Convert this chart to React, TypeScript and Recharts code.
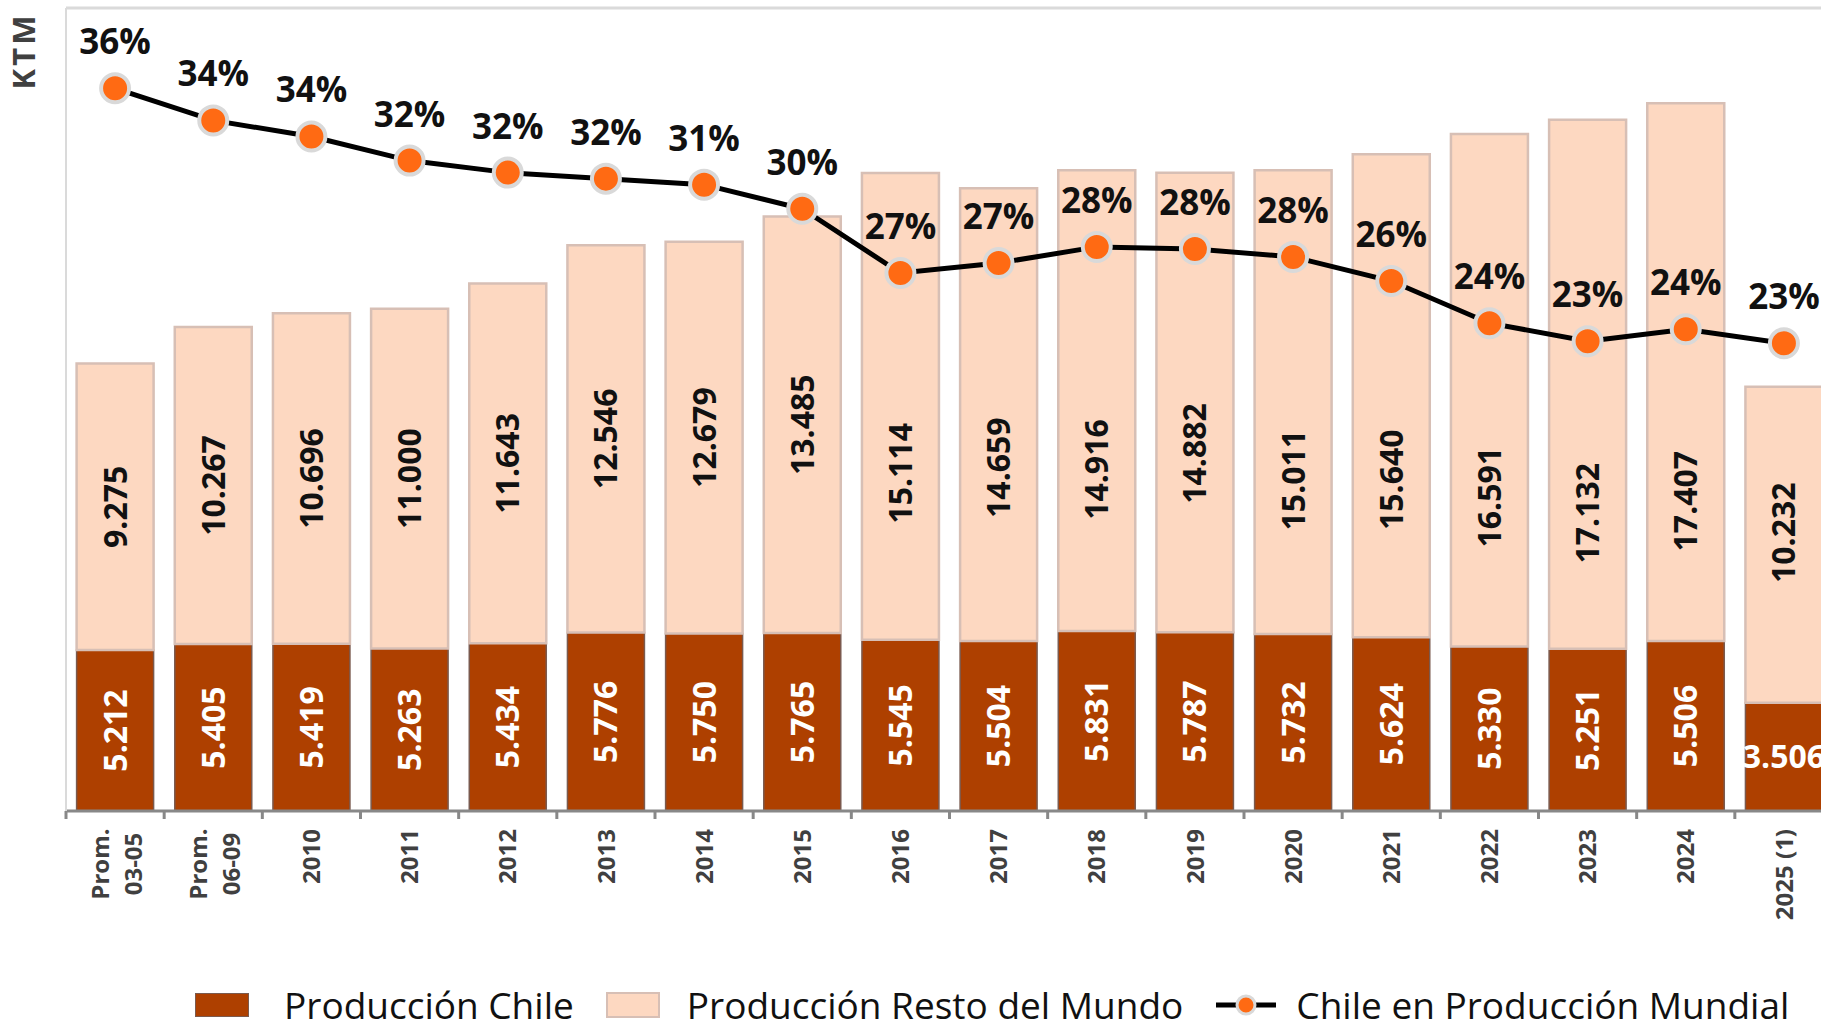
import { ComposedChart, Bar, Line, XAxis, YAxis, LabelList, ReferenceLine } from 'recharts';

// ---------------- DATA ----------------
const CATEGORIES = [
  'Prom.\n03-05',
  'Prom.\n06-09',
  '2010',
  '2011',
  '2012',
  '2013',
  '2014',
  '2015',
  '2016',
  '2017',
  '2018',
  '2019',
  '2020',
  '2021',
  '2022',
  '2023',
  '2024',
  '2025 (1)',
];
const CHILE = [5212, 5405, 5419, 5263, 5434, 5776, 5750, 5765, 5545, 5504, 5831, 5787, 5732, 5624, 5330, 5251, 5506, 3506];
const REST = [9275, 10267, 10696, 11000, 11643, 12546, 12679, 13485, 15114, 14659, 14916, 14882, 15011, 15640, 16591, 17132, 17407, 10232];
const SHARE = [0.36, 0.344, 0.336, 0.324, 0.318, 0.315, 0.312, 0.3, 0.268, 0.273, 0.281, 0.28, 0.276, 0.264, 0.243, 0.234, 0.24, 0.233];
const Y_MAX = 26000;

const data = CATEGORIES.map((name, i) => ({ name, chile: CHILE[i], rest: REST[i], share: SHARE[i] }));

// ---------------- LAYOUT ----------------
const CHART_W = 1840;
const CHART_H = 1024;
const MARGIN = { top: 8, right: 7, left: 65, bottom: 93 };
const BAND = (CHART_W - 66 - MARGIN.right) / CATEGORIES.length;
// the original nudges the "resto" labels downwards so they clear the line (px)
const REST_LABEL_NUDGE = [0, 0, 0, 0, 0, 0, 0, 0, 67, 53, 69, 51, 78, 84, 107, 129, 129, -12];

const FONT = '"Open Sans", sans-serif';
const C_CHILE = '#AE4000';
const C_REST = '#FDD8C1';
const C_DOT = '#FF6A13';

// ---------------- FORMATTERS ----------------
function fmt(v: number): string {
  const t = Math.floor(v / 1000);
  return t > 0 ? `${t}.${String(v % 1000).padStart(3, '0')}` : String(v);
}

// ---------------- LABELS ----------------
const barValue = (color: string, isChile: boolean) => (props: any) => {
  const { x, y, width, height, value, index } = props;
  const cx = Number(x) + Number(width) / 2;
  const cy = Number(y) + Number(height) / 2 + (isChile ? 0 : REST_LABEL_NUDGE[index] || 0);
  const flat = isChile && index === CATEGORIES.length - 1;
  return (
    <text
      transform={flat ? `translate(${cx},${cy})` : `translate(${cx},${cy}) rotate(-90)`}
      textAnchor="middle"
      dy="0.36em"
      fill={color}
      fontSize={32}
      fontWeight={700}
      fontFamily={FONT}>
      {fmt(Number(value))}
    </text>
  );
};

const ShareLabel = (props: any) => {
  const { x, y, value } = props;
  return (
    <text x={x} y={Number(y) - 34} textAnchor="middle" fill="#111" fontSize={35} fontWeight={700} fontFamily={FONT}>
      {`${Math.round(Number(value) * 100)}%`}
    </text>
  );
};

const XTick = ({ x, y, payload }: any) => {
  const lines = String(payload.value).split('\n');
  const half = BAND / 2;
  const common = { fill: '#404040', fontSize: 24, fontWeight: 700, fontFamily: FONT, dy: '0.36em' };
  return (
    <g>
      <line x1={x - half} x2={x - half} y1={y} y2={y + 8} stroke="#888" strokeWidth={3} />
      {lines.length === 1 ?
        <text transform={`translate(${x},${y + 18}) rotate(-90)`} textAnchor="end" {...common}>
          {lines[0]}
        </text>
      : lines.map((l, i) => (
          <text
            key={i}
            transform={`translate(${x + 2 + (i - (lines.length - 1) / 2) * 33},${y + 53}) rotate(-90)`}
            textAnchor="middle"
            {...common}>
            {l}
          </text>
        ))
      }
    </g>
  );
};

// ---------------- LEGEND ----------------
function LegendRow() {
  const text = { fontSize: 37, color: '#111', fontFamily: FONT, lineHeight: '30px', whiteSpace: 'nowrap' as const };
  return (
    <div style={{ position: 'absolute', left: 195, top: 990, height: 30, display: 'flex', alignItems: 'center' }}>
      <div style={{ width: 52, height: 22, background: C_CHILE, border: '1.5px solid #7a5a4e' }} />
      <span style={{ ...text, marginLeft: 35 }}>Producción Chile</span>
      <div style={{ width: 50, height: 22, background: C_REST, border: '2px solid #D7BFB5', marginLeft: 32 }} />
      <span style={{ ...text, marginLeft: 27 }}>Producción Resto del Mundo</span>
      <svg width={60} height={30} style={{ marginLeft: 33 }}>
        <line x1={0} x2={60} y1={15} y2={15} stroke="#000" strokeWidth={5} />
        <circle cx={30} cy={15} r={9} fill={C_DOT} stroke="#D9D9D9" strokeWidth={3} />
      </svg>
      <span style={{ ...text, marginLeft: 20 }}>Chile en Producción Mundial</span>
    </div>
  );
}

// ---------------- COMPONENT ----------------
export default function App() {
  return (
    <div
      style={{
        position: 'absolute',
        left: 0,
        top: 0,
        width: 1821,
        height: 1024,
        overflow: 'hidden',
        background: '#fff',
        fontFamily: FONT,
      }}>
      <ComposedChart width={CHART_W} height={CHART_H} data={data} margin={MARGIN} barCategoryGap="10.8%">
        <XAxis
          dataKey="name"
          interval={0}
          height={120}
          tickSize={0}
          tickMargin={0}
          tickLine={false}
          axisLine={{ stroke: '#888', strokeWidth: 3 }}
          tick={<XTick />}
        />
        <YAxis
          yAxisId="left"
          width={1}
          domain={[0, Y_MAX]}
          tick={false}
          tickLine={false}
          axisLine={{ stroke: '#DADADA', strokeWidth: 2 }}
        />
        <YAxis yAxisId="right" orientation="right" hide domain={[0, 0.4]} />
        <ReferenceLine yAxisId="left" y={Y_MAX} stroke="#DADADA" strokeWidth={3} />
        <Bar
          yAxisId="left"
          dataKey="chile"
          name="Producción Chile"
          stackId="a"
          fill={C_CHILE}
          stroke="#7a5a4e"
          strokeWidth={1.5}
          isAnimationActive={false}>
          <LabelList dataKey="chile" content={barValue('#ffffff', true)} />
        </Bar>
        <Bar
          yAxisId="left"
          dataKey="rest"
          name="Producción Resto del Mundo"
          stackId="a"
          fill={C_REST}
          stroke="#D7BFB5"
          strokeWidth={2.5}
          isAnimationActive={false}>
          <LabelList dataKey="rest" content={barValue('#111111', false)} />
        </Bar>
        <Line
          yAxisId="right"
          dataKey="share"
          name="Chile en Producción Mundial"
          type="linear"
          stroke="#000"
          strokeWidth={5}
          dot={{ r: 14, fill: C_DOT, stroke: '#D9D9D9', strokeWidth: 4 }}
          activeDot={false}
          isAnimationActive={false}>
          <LabelList dataKey="share" content={<ShareLabel />} />
        </Line>
      </ComposedChart>
      <div
        style={{
          position: 'absolute',
          left: 23,
          top: 51,
          transform: 'translate(-50%, -50%) rotate(-90deg)',
          fontSize: 31,
          fontWeight: 700,
          letterSpacing: 3,
          color: '#404040',
          lineHeight: '32px',
        }}>
        KTM
      </div>
      <LegendRow />
    </div>
  );
}
